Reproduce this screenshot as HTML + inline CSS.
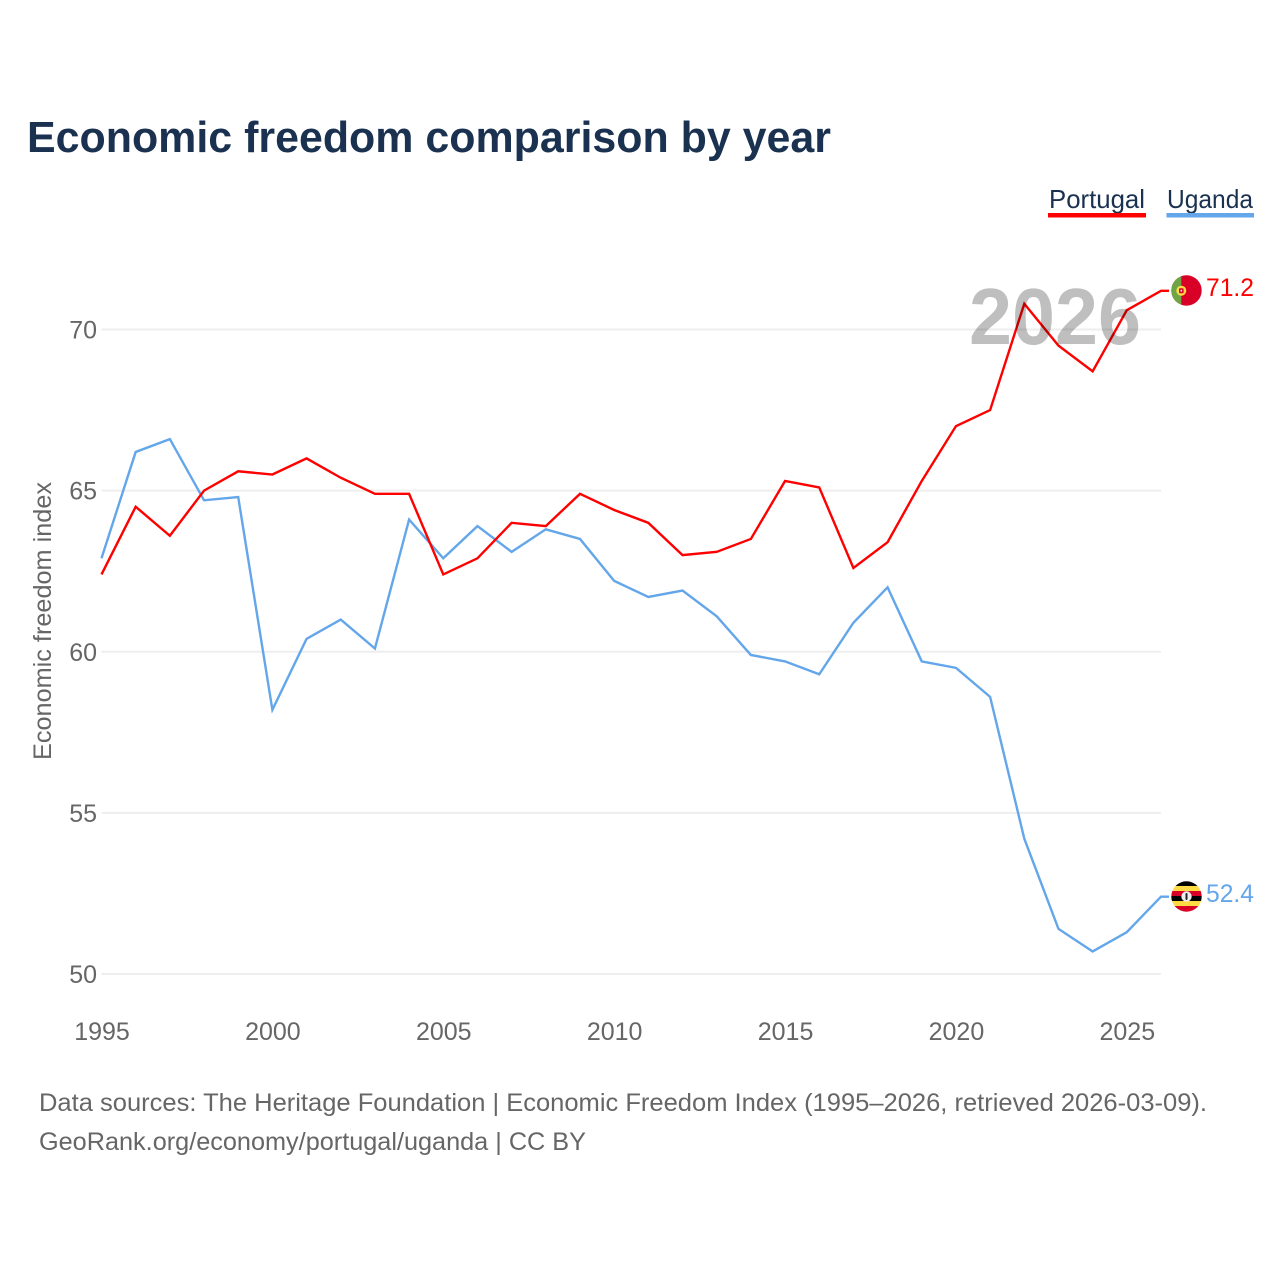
<!DOCTYPE html>
<html lang="en">
<head>
<meta charset="utf-8">
<title>Economic freedom comparison by year</title>
<style>
  html, body { margin: 0; padding: 0; background: #fff; }
  svg { display: block; font-family: "Liberation Sans", sans-serif; }
</style>
</head>
<body>
<svg id="chart" width="1280" height="1280" viewBox="0 0 1280 1280" xmlns="http://www.w3.org/2000/svg">
  <rect width="1280" height="1280" fill="#fff"/>
  <text x="27" y="152" font-size="44" font-weight="700" fill="#1a3150" textLength="804" lengthAdjust="spacingAndGlyphs">Economic freedom comparison by year</text>

  <g>
    <text x="1049" y="208" font-size="26" fill="#1a3150" textLength="96" lengthAdjust="spacingAndGlyphs">Portugal</text>
    <rect x="1048" y="213" width="98" height="4.5" fill="#ff0000"/>
  </g>
  <g>
    <text x="1167" y="208" font-size="26" fill="#1a3150" textLength="86" lengthAdjust="spacingAndGlyphs">Uganda</text>
    <rect x="1166.500" y="213" width="87.500" height="4.5" fill="#63a6ea"/>
  </g>

  <g id="grid"></g>
  <g id="y-ticks"></g>
  <g id="x-ticks"></g>
  <text transform="translate(51 760) rotate(-90)" font-size="25" fill="#666" textLength="278" lengthAdjust="spacingAndGlyphs">Economic freedom index</text>

  <g id="series"></g>

  <text x="969" y="344" font-size="80" font-weight="700" fill="#000" fill-opacity="0.25" textLength="172" lengthAdjust="spacingAndGlyphs">2026</text>

  <defs>
    <clipPath id="pt-clip"><circle cx="1186.500" cy="290.500" r="15.200"/></clipPath>
    <clipPath id="ug-clip"><circle cx="1186.500" cy="896.500" r="15.200"/></clipPath>
  </defs>
  <g clip-path="url(#pt-clip)">
    <rect x="1171" y="275" width="31" height="31" fill="#d80027"/>
    <rect x="1171" y="275" width="10.300" height="31" fill="#6da544"/>
    <circle cx="1181.300" cy="290.700" r="5" fill="#ffda44"/>
    <rect x="1179" y="288.200" width="4.600" height="5" rx="1" fill="#d80027"/>
    <rect x="1180.500" y="289.800" width="1.600" height="1.800" fill="#eee"/>
  </g>
  <g clip-path="url(#ug-clip)">
    <rect x="1171" y="881" width="31" height="5" fill="#000"/>
    <rect x="1171" y="886" width="31" height="5" fill="#ffda44"/>
    <rect x="1171" y="891" width="31" height="5" fill="#d80027"/>
    <rect x="1171" y="896" width="31" height="5" fill="#000"/>
    <rect x="1171" y="901" width="31" height="5" fill="#ffda44"/>
    <rect x="1171" y="906" width="31" height="6" fill="#d80027"/>
    <circle cx="1186.500" cy="896.500" r="5.200" fill="#eee"/>
    <rect x="1185.500" y="893" width="2" height="7" rx="1" fill="#222"/>
  </g>
  <text x="1206" y="296" font-size="25" fill="#ff0000" textLength="48" lengthAdjust="spacingAndGlyphs">71.2</text>
  <text x="1206" y="902" font-size="25" fill="#63a6ea" textLength="48" lengthAdjust="spacingAndGlyphs">52.4</text>

  <text x="39" y="1111" font-size="25" fill="#666" textLength="1168" lengthAdjust="spacingAndGlyphs">Data sources: The Heritage Foundation | Economic Freedom Index (1995–2026, retrieved 2026-03-09).</text>
  <a><text x="39" y="1150" font-size="25" fill="#666" textLength="547" lengthAdjust="spacingAndGlyphs">GeoRank.org/economy/portugal/uganda | CC BY</text></a>
</svg>
<script>
const years = [1995,1996,1997,1998,1999,2000,2001,2002,2003,2004,2005,2006,2007,2008,2009,2010,2011,2012,2013,2014,2015,2016,2017,2018,2019,2020,2021,2022,2023,2024,2025,2026];
const portugalValues = [62.4,64.5,63.6,65.0,65.6,65.5,66.0,65.4,64.9,64.9,62.4,62.9,64.0,63.9,64.9,64.4,64.0,63.0,63.1,63.5,65.3,65.1,62.6,63.4,65.3,67.0,67.5,70.8,69.5,68.7,70.6,71.2];
const ugandaValues = [62.9,66.2,66.6,64.7,64.8,58.2,60.4,61.0,60.1,64.1,62.9,63.9,63.1,63.8,63.5,62.2,61.7,61.9,61.1,59.9,59.7,59.3,60.9,62.0,59.7,59.5,58.6,54.2,51.4,50.7,51.3,52.4];
const yTickValues = [50,55,60,65,70];
const xTickValues = [1995,2000,2005,2010,2015,2020,2025];

const NS = 'http://www.w3.org/2000/svg';
function xScale(year) { return 101.5 + (year - 1995) * (1161 - 101.5) / 31; }
function yScale(value) { return 974 - (value - 50) * (974 - 329.5) / 20; }
function make(tag, parent, attrs) {
  const el = document.createElementNS(NS, tag);
  for (const k in attrs) el.setAttribute(k, attrs[k]);
  parent.appendChild(el);
  return el;
}

const grid = document.getElementById('grid');
const yTicks = document.getElementById('y-ticks');
yTickValues.forEach(function (v) {
  const line = make('line', grid, { x1: 101.5, x2: 1161, y1: yScale(v), y2: yScale(v), stroke: '#eeeeee', 'stroke-width': 2 });
  
  
  const label = make('text', yTicks, { x: 97, y: yScale(v) + 9, 'font-size': 25, fill: '#666', 'text-anchor': 'end' });
  
  
  label.textContent = v;
});

const xTicks = document.getElementById('x-ticks');
xTickValues.forEach(function (v) {
  const label = make('text', xTicks, { x: xScale(v) + 0.5, y: 1040, 'font-size': 25, fill: '#666', 'text-anchor': 'middle' });
  
  
  label.textContent = v;
});

const seriesGroup = document.getElementById('series');
function drawSeries(values, color, name) {
  const pts = values.map(function (v, i) { return xScale(years[i]) + ',' + yScale(v); });
  const last = values[values.length - 1];
  pts.push('1169,' + yScale(last));
  const line = make('polyline', seriesGroup, { points: pts.join(' '), fill: 'none', stroke: color, 'stroke-width': 2.4, 'stroke-linejoin': 'miter' });
  
  
}
drawSeries(ugandaValues, '#63a6ea', 'line-uganda');
drawSeries(portugalValues, '#ff0000', 'line-portugal');
</script>
</body>
</html>
